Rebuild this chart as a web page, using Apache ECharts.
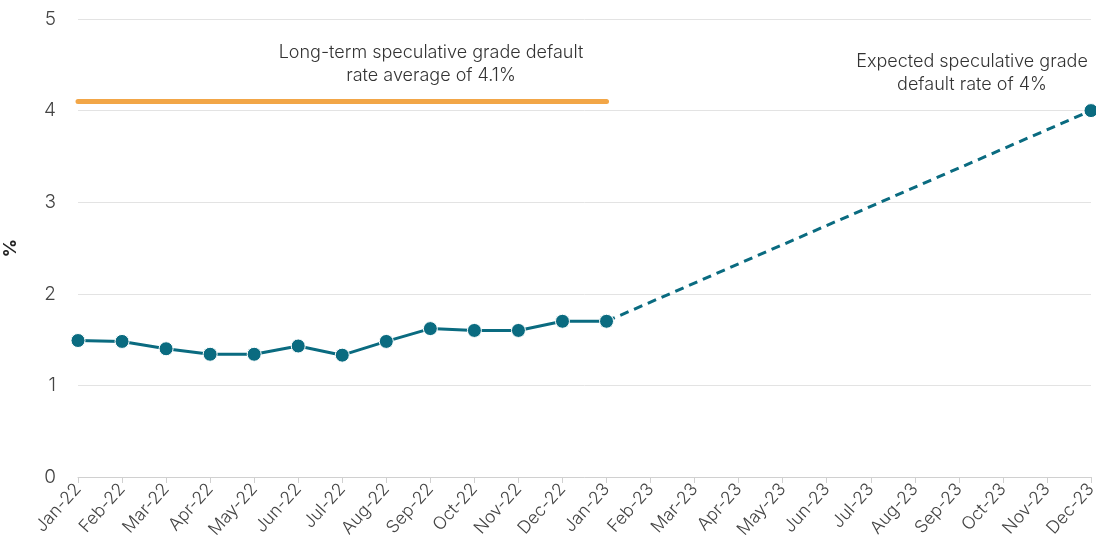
<!DOCTYPE html>
<html><head><meta charset="utf-8">
<script src="https://cdn.jsdelivr.net/npm/echarts@6/dist/echarts.min.js"></script>
<style>html,body{margin:0;padding:0;background:#fff}#c{width:1096px;height:556px}</style>
</head><body><div id="c"></div>
<script>
const categories = ['Jan-22','Feb-22','Mar-22','Apr-22','May-22','Jun-22','Jul-22','Aug-22','Sep-22','Oct-22','Nov-22','Dec-22','Jan-23','Feb-23','Mar-23','Apr-23','May-23','Jun-23','Jul-23','Aug-23','Sep-23','Oct-23','Nov-23','Dec-23'];
const actual = [1.49,1.48,1.40,1.34,1.34,1.43,1.33,1.48,1.62,1.60,1.60,1.70,1.70];
const forecastStart = 1.70;
const forecastEnd = 4.0;
const longTermAvg = 4.1;
const yTicks = [0,1,2,3,4,5];

const n = categories.length;
const actualData = categories.map((c,i)=> i < actual.length ? actual[i] : null);
const forecastData = categories.map((c,i)=> i === actual.length-1 ? forecastStart : (i === n-1 ? forecastEnd : null));
const avgData = categories.map((c,i)=> i < actual.length ? longTermAvg : null);

const FONT = 'Inter';
const TEAL = '#0a6b80';
const chart = echarts.init(document.getElementById('c'));
chart.setOption({
  animation:false,
  grid:{left:78,right:5,top:19,bottom:79,containLabel:false,outerBoundsMode:'none'},
  xAxis:{type:'category',data:categories,boundaryGap:false,
    axisLine:{lineStyle:{color:'#d0d0d0'}},
    axisTick:{show:true,alignWithLabel:true,length:6,lineStyle:{color:'#d0d0d0'}},
    axisLabel:{rotate:48,color:'#444',fontFamily:FONT,fontWeight:300,fontSize:17.5,margin:9,interval:0,hideOverlap:false}
  },
  yAxis:{type:'value',min:yTicks[0],max:yTicks[yTicks.length-1],interval:1,
    name:'%',nameLocation:'middle',nameGap:58,nameRotate:90,
    nameTextStyle:{fontFamily:FONT,fontSize:18,fontWeight:'bold',color:'#222'},
    axisLine:{show:false},axisTick:{show:false},
    splitLine:{lineStyle:{color:'#e3e3e3'}},
    axisLabel:{color:'#444',fontFamily:FONT,fontWeight:300,fontSize:19,margin:22}
  },
  series:[
    {type:'line',data:avgData,showSymbol:false,symbol:'none',
      lineStyle:{color:'#f2a647',width:5,cap:'round'},z:2},
    {type:'line',data:forecastData,connectNulls:true,symbol:'circle',symbolSize:14,
      showSymbol:true,
      itemStyle:{color:TEAL,borderColor:'#fff',borderWidth:1},
      lineStyle:{color:TEAL,width:3,type:[9,6]},z:3},
    {type:'line',data:actualData,symbol:'circle',symbolSize:14,
      itemStyle:{color:TEAL,borderColor:'#fff',borderWidth:1},
      lineStyle:{color:TEAL,width:3},z:4}
  ],
  graphic:[
    {type:'text',style:{text:'Long-term speculative grade default\nrate average of 4.1%',
      fontFamily:FONT,fontWeight:300,fontSize:18,fill:'#333',align:'center',lineHeight:23,x:431,y:41}},
    {type:'text',style:{text:'Expected speculative grade\ndefault rate of 4%',
      fontFamily:FONT,fontWeight:300,fontSize:18,fill:'#333',align:'center',lineHeight:23,x:972,y:50}}
  ]
});
</script></body></html>
